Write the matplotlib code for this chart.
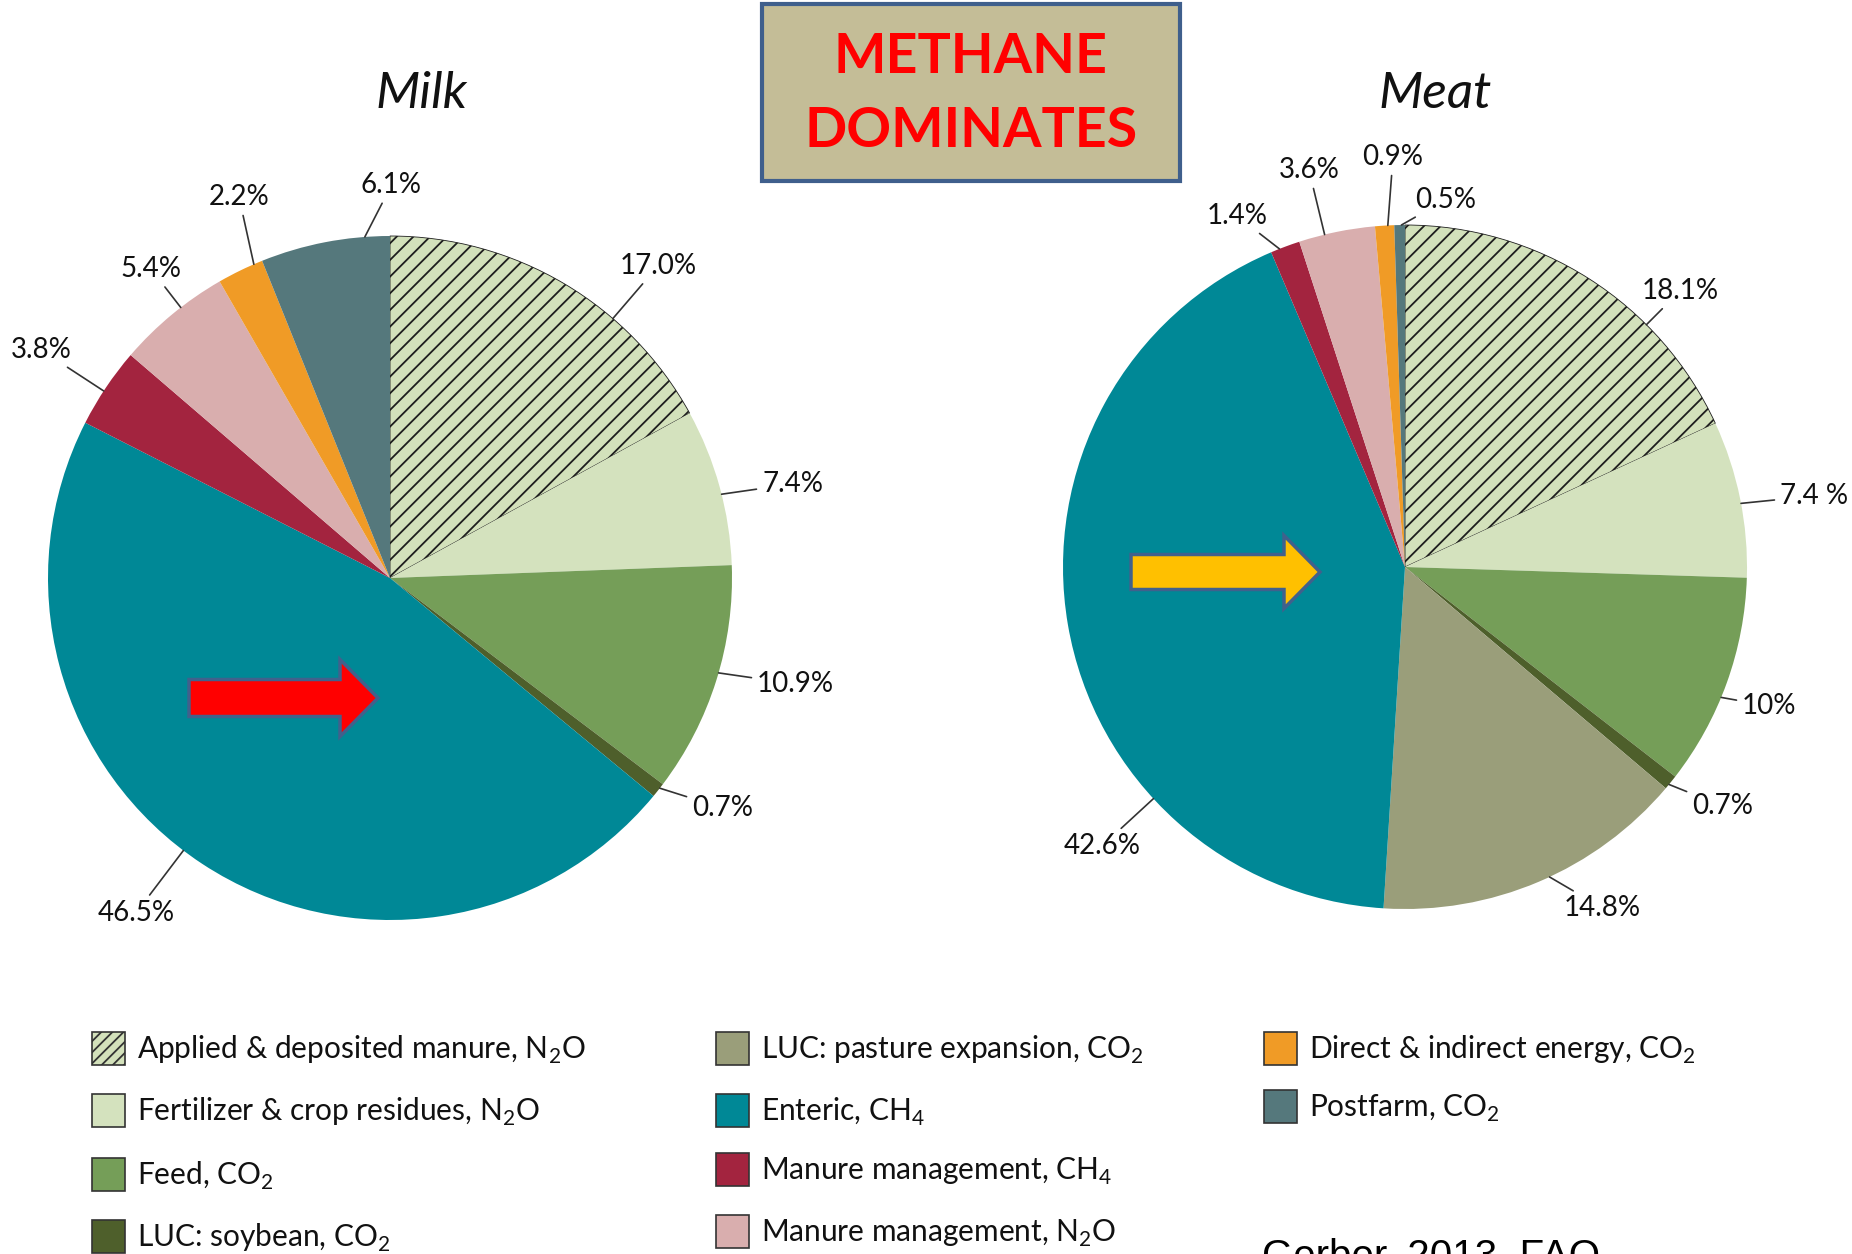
import numpy as np
import matplotlib
matplotlib.use("Agg")
import matplotlib.pyplot as plt
from matplotlib.patches import Rectangle, FancyArrow

plt.rcParams['font.family'] = ['Lato', 'DejaVu Sans']
plt.rcParams['mathtext.fontset'] = 'custom'
plt.rcParams['mathtext.rm'] = 'Lato'
plt.rcParams['hatch.linewidth'] = 1.3

# ---------------- data ----------------
categories = ["Applied & deposited manure, N2O", "Fertilizer & crop residues, N2O",
              "Feed, CO2", "LUC: soybean, CO2", "LUC: pasture expansion, CO2",
              "Enteric, CH4", "Manure management, CH4", "Manure management, N2O",
              "Direct & indirect energy, CO2", "Postfarm, CO2"]
milk_values = [17.0, 7.4, 10.9, 0.7, 0.0, 46.5, 3.8, 5.4, 2.2, 6.1]
meat_values = [18.1, 7.4, 10.0, 0.7, 14.8, 42.6, 1.4, 3.6, 0.9, 0.5]
milk_labels = ["17.0%", "7.4%", "10.9%", "0.7%", "", "46.5%", "3.8%", "5.4%", "2.2%", "6.1%"]
meat_labels = ["18.1%", "7.4 %", "10%", "0.7%", "14.8%", "42.6%", "1.4%", "3.6%", "0.9%", "0.5%"]
legend_labels = ["Applied & deposited manure, N$_\\mathregular{2}$O",
                 "Fertilizer & crop residues, N$_\\mathregular{2}$O",
                 "Feed, CO$_\\mathregular{2}$",
                 "LUC: soybean, CO$_\\mathregular{2}$",
                 "LUC: pasture expansion, CO$_\\mathregular{2}$",
                 "Enteric, CH$_\\mathregular{4}$",
                 "Manure management, CH$_\\mathregular{4}$",
                 "Manure management, N$_\\mathregular{2}$O",
                 "Direct & indirect energy, CO$_\\mathregular{2}$",
                 "Postfarm, CO$_\\mathregular{2}$"]
colors = ["#d3e1bb", "#d4e2be", "#759e58", "#4e5f2b", "#9a9e7a",
          "#008896", "#a3243f", "#d9aeae", "#f09b26", "#55787c"]

W, H = 1852, 1254
def Y(y):
    return H - y

fig = plt.figure(figsize=(W / 100, H / 100), dpi=100)
ax = fig.add_axes([0, 0, 1, 1])

# label positions (image px) and alignment
milk_pos = [(658, 266, 'center'), (762, 484, 'left'), (757, 684, 'left'), (692, 808, 'left'),
            None, (136, 913, 'center'), (41, 350, 'center'), (151, 269, 'center'),
            (239, 197, 'center'), (361, 185, 'left')]
meat_pos = [(1680, 291, 'center'), (1780, 496, 'left'), (1742, 706, 'left'), (1692, 806, 'left'),
            (1564, 908, 'left'), (1102, 846, 'center'), (1237, 216, 'center'),
            (1309, 170, 'center'), (1393, 157, 'center'), (1415, 200, 'left')]


def draw_pie(values, labels, positions, cx, cy, r, title, title_x):
    vals = [v if v > 0 else 1e-9 for v in values]
    wedges, _ = ax.pie(vals, colors=colors, startangle=90, counterclock=False,
                       center=(cx, Y(cy)), radius=r,
                       wedgeprops=dict(linewidth=0))
    wedges[0].set_hatch('//')
    wedges[0].set_edgecolor('#1e1e1e')
    wedges[0].set_linewidth(0.6)
    for w, lab, pos, v in zip(wedges, labels, positions, values):
        if pos is None or v <= 0:
            continue
        tx, ty, ha = pos
        t1, t2 = w.theta1, w.theta2
        ang = np.degrees(np.arctan2(Y(ty) - Y(cy), tx - cx))
        while ang < t1 - 180:
            ang += 360
        while ang > t2 + 180:
            ang -= 360
        margin = min(1.5, (t2 - t1) / 3)
        ang = min(max(ang, t1 + margin), t2 - margin)
        ex = cx + r * np.cos(np.radians(ang))
        ey = Y(cy) + r * np.sin(np.radians(ang))
        ax.annotate(lab, xy=(ex, ey), xytext=(tx, Y(ty)), ha=ha, va='center',
                    fontsize=20, color='#111111',
                    arrowprops=dict(arrowstyle='-', color='#333333', lw=1.2,
                                    shrinkA=2, shrinkB=0))
    ax.text(title_x, Y(94), title, ha='center', va='center', fontsize=37,
            style='italic', color='#111111')


draw_pie(milk_values, milk_labels, milk_pos, 390, 578, 342, "Milk", 421)
draw_pie(meat_values, meat_labels, meat_pos, 1405, 567, 342, "Meat", 1435)

# arrows
ax.add_patch(FancyArrow(189, Y(698), 189, 0, width=37, head_width=77, head_length=38,
                        length_includes_head=True, facecolor='#ff0000',
                        edgecolor='#41618c', linewidth=2.5, zorder=5))
ax.add_patch(FancyArrow(1131, Y(572), 189, 0, width=35, head_width=73, head_length=36,
                        length_includes_head=True, facecolor='#ffc000',
                        edgecolor='#41618c', linewidth=2.5, zorder=5))

# title box
ax.add_patch(Rectangle((762, Y(181)), 418, 177, facecolor='#c4bd97',
                       edgecolor='#3f5f8c', linewidth=3, zorder=4))
ax.text(971, Y(57), "METHANE", ha='center', va='center', fontsize=40,
        fontweight='bold', color='#ff0000', zorder=6)
ax.text(971, Y(131), "DOMINATES", ha='center', va='center', fontsize=40,
        fontweight='bold', color='#ff0000', zorder=6)

# legend
legend_order = [0, 1, 2, 3, 4, 5, 6, 7, 8, 9]
legend_xy = [(92, 1049), (92, 1111), (92, 1175), (92, 1237),
             (716, 1049), (716, 1111), (716, 1170), (716, 1232),
             (1264, 1049), (1264, 1107)]
for i, (px, py) in zip(legend_order, legend_xy):
    ax.add_patch(Rectangle((px, Y(py) - 16), 33, 33, facecolor=colors[i],
                           edgecolor='#333333', linewidth=1.2,
                           hatch='///' if i == 0 else None))
    ax.text(px + 45, Y(py + 10), legend_labels[i], ha='left', va='baseline',
            fontsize=21.5, color='#111111')

ax.text(1262, Y(1238), "Gerber, 2013, FAO", ha='left', va='top', fontsize=29,
        color='#000000', family=['Liberation Sans'])

ax.set_xlim(0, W)
ax.set_ylim(0, H)
ax.set_aspect('auto')
ax.axis('off')
fig.savefig("out.png", dpi=100)
